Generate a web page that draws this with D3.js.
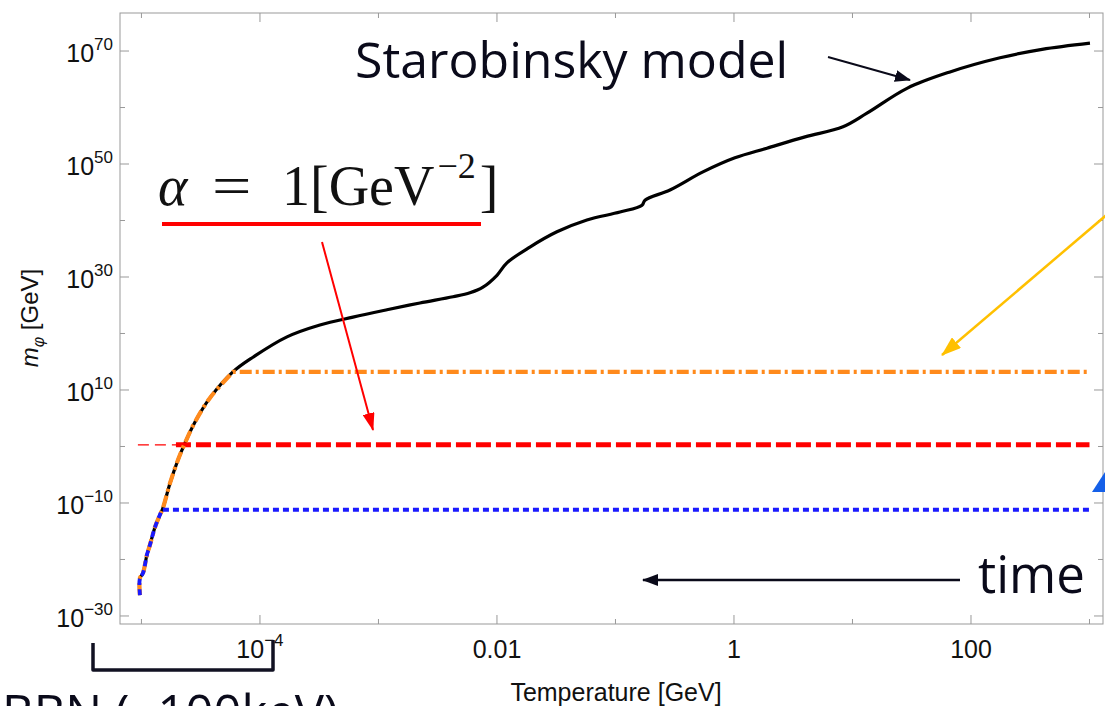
<!DOCTYPE html>
<html>
<head>
<meta charset="utf-8">
<script src="https://cdn.jsdelivr.net/npm/d3@7"></script>
<style>
  body { margin: 0; background: #fff; }
  svg { display: block; }
  .tick-label { font-family: "Liberation Sans", Arial, sans-serif; fill: #111; }
  .note { font-family: "Open Sans", "Noto Sans", sans-serif; fill: #0a0a1a; }
</style>
</head>
<body>
<svg id="chart" width="1105" height="706"></svg>
<script>
// Starobinsky curve, log10 T [GeV] vs log10 m_phi [GeV]
var curveLogT = [-5.013, -5.013, -4.987, -4.954, -4.928, -4.886, -4.844, -4.819, -4.759, -4.692,
  -4.633, -4.549, -4.422, -4.228, -4.059, -3.772, -3.494, -3.215, -2.928, -2.650,
  -2.371, -2.228, -2.118, -2.000, -1.916, -1.722, -1.494, -1.241, -0.962, -0.776,
  -0.751, -0.540, -0.262, 0.008, 0.278, 0.600, 0.920, 1.122, 1.460, 1.823, 2.245, 2.600, 3.004];
var curveLogM = [-26.3, -23.3, -22.4, -19.2, -17.4, -14.3, -12.1, -10.9, -6.5, -2.4,
  0.6, 4.3, 8.6, 13.2, 15.8, 19.4, 21.5, 22.9, 24.2, 25.4,
  26.5, 27.2, 28.2, 30.3, 32.5, 35.3, 38.0, 40.1, 41.5, 42.7,
  43.6, 45.4, 48.6, 51.1, 52.8, 54.8, 56.6, 59.0, 63.4, 66.3, 68.8, 70.3, 71.4];

// plateau levels of the three cut curves (log10 m_phi)
var plateauNames = ["alpha", "orange", "blue"];
var plateauLogM = [0.3, 13.2, -11.2];
var plateauEndLogT = 3.0;
var alphaThinStartLogT = -5.03;

// axes
var xMajorLogT = [-4, -2, 0, 2];
var xMajorLabels = [["10", "\u22124"], ["0.01"], ["1"], ["100"]];
var xMinorLogT = [-5, -3, -1, 1, 3];
var yMajorLogM = [-30, -10, 10, 30, 50, 70];
var yMajorLabels = ["\u221230", "\u221210", "10", "30", "50", "70"];
var yMinorLogM = [-20, 0, 20, 40, 60];

var svg = d3.select("#chart");
var pLeft = 120, pRight = 1103, pTop = 13, pBottom = 624;

var x = d3.scaleLog().domain([Math.pow(10, -5.181), Math.pow(10, 3.114)]).range([pLeft, pRight]);
var y = d3.scaleLog().domain([Math.pow(10, -31.42), Math.pow(10, 76.73)]).range([pBottom, pTop]);
function px(lt) { return x(Math.pow(10, lt)); }
function py(lm) { return y(Math.pow(10, lm)); }

// markers
var defs = svg.append("defs");
function marker(id, color, len, wid) {
  defs.append("marker")
    .attr("id", id).attr("markerUnits", "userSpaceOnUse")
    .attr("markerWidth", len).attr("markerHeight", wid)
    .attr("refX", len - 1).attr("refY", wid / 2)
    .attr("orient", "auto")
    .append("path")
    .attr("d", "M0,0L" + len + "," + (wid / 2) + "L0," + wid + "Z")
    .attr("fill", color);
}
marker("headBlack", "#0a0a1a", 16, 12);
marker("headRed", "#ff0000", 18, 12);
marker("headGold", "#ffc000", 20, 14);

// frame
var frame = svg.append("g").attr("stroke", "#999").attr("stroke-width", 1).attr("fill", "none");
frame.append("rect").attr("x", pLeft).attr("y", pTop).attr("width", pRight - pLeft).attr("height", pBottom - pTop);

function tickLines(vals, fn, len, side) {
  vals.forEach(function (v) {
    var p = fn(v);
    if (side === "bottom") frame.append("line").attr("x1", p).attr("x2", p).attr("y1", pBottom).attr("y2", pBottom - len);
    if (side === "top") frame.append("line").attr("x1", p).attr("x2", p).attr("y1", pTop).attr("y2", pTop + len);
    if (side === "left") frame.append("line").attr("y1", p).attr("y2", p).attr("x1", pLeft).attr("x2", pLeft + len);
    if (side === "right") frame.append("line").attr("y1", p).attr("y2", p).attr("x1", pRight).attr("x2", pRight - len);
  });
}
tickLines(xMajorLogT, px, 9, "bottom");
tickLines(xMinorLogT, px, 5, "bottom");
tickLines(xMajorLogT, px, 9, "top");
tickLines(xMinorLogT, px, 5, "top");
tickLines(yMajorLogM, py, 9, "left");
tickLines(yMinorLogM, py, 5, "left");
tickLines(yMajorLogM, py, 9, "right");
tickLines(yMinorLogM, py, 5, "right");

// tick labels
xMajorLogT.forEach(function (v, i) {
  var lab = xMajorLabels[i];
  var t = svg.append("text").attr("class", "tick-label")
    .attr("x", px(v)).attr("y", 658).attr("font-size", 25).attr("text-anchor", "middle");
  t.append("tspan").text(lab[0]);
  if (lab.length > 1) t.append("tspan").attr("dy", -12).attr("font-size", 17).text(lab[1]);
});
yMajorLogM.forEach(function (v, i) {
  var t = svg.append("text").attr("class", "tick-label")
    .attr("x", 113).attr("y", py(v) + 11).attr("font-size", 25).attr("text-anchor", "end");
  t.append("tspan").text("10");
  t.append("tspan").attr("dy", -12).attr("font-size", 17).text(yMajorLabels[i]);
});

// axis titles
svg.append("text").attr("class", "tick-label")
  .attr("x", 616).attr("y", 701).attr("font-size", 25).attr("text-anchor", "middle")
  .text("Temperature [GeV]");
var yt = svg.append("text").attr("class", "tick-label")
  .attr("transform", "translate(38,318) rotate(-90)").attr("font-size", 24).attr("text-anchor", "middle");
yt.append("tspan").attr("font-style", "italic").text("m");
yt.append("tspan").attr("font-style", "italic").attr("font-size", 16).attr("dy", 6).text("\u03c6");
yt.append("tspan").attr("dy", -6).text(" [GeV]");

// curves
var line = d3.line()
  .x(function (d) { return px(d[0]); })
  .y(function (d) { return py(d[1]); })
  .curve(d3.curveCatmullRom.alpha(0.5));
var flat = d3.line().x(function (d) { return px(d[0]); }).y(function (d) { return py(d[1]); });
var curve = curveLogT.map(function (t, i) { return [t, curveLogM[i]]; });

function cutCurve(level) {
  var pts = [];
  for (var i = 0; i < curve.length; i++) {
    if (curve[i][1] <= level) { pts.push(curve[i]); continue; }
    var a = curve[i - 1], b = curve[i];
    var f = (level - a[1]) / (b[1] - a[1]);
    pts.push([a[0] + f * (b[0] - a[0]), level]);
    break;
  }
  return pts;
}
function crossT(level) { var p = cutCurve(level); return p[p.length - 1][0]; }
function cutPath(level) {
  return line(cutCurve(level)) + flat([[crossT(level), level], [plateauEndLogT, level]]).replace("M", "L");
}

svg.append("path").datum(curve).attr("d", line)
  .attr("fill", "none").attr("stroke", "#000").attr("stroke-width", 3.2).attr("stroke-linejoin", "round");

var aLevel = plateauLogM[0];
svg.append("path").datum([[alphaThinStartLogT, aLevel], [crossT(aLevel), aLevel]]).attr("d", flat)
  .attr("fill", "none").attr("stroke", "#ff0000").attr("stroke-width", 1.2).attr("stroke-dasharray", "11,6");
svg.append("path").datum([[crossT(aLevel) - 0.07, aLevel], [plateauEndLogT, aLevel]]).attr("d", flat)
  .attr("fill", "none").attr("stroke", "#ff0000").attr("stroke-width", 5).attr("stroke-dasharray", "15,5");

svg.append("path").attr("d", cutPath(plateauLogM[1]))
  .attr("fill", "none").attr("stroke", "#ff8a1c").attr("stroke-width", 4.2).attr("stroke-dasharray", "12,4,3,4");

svg.append("path").attr("d", cutPath(plateauLogM[2]))
  .attr("fill", "none").attr("stroke", "#1a1aff").attr("stroke-width", 3.8).attr("stroke-dasharray", "6,4");

// annotations
svg.append("text").attr("class", "note").attr("x", 355).attr("y", 78).attr("font-size", 50)
  .text("Starobinsky model");
svg.append("line").attr("x1", 828).attr("y1", 57).attr("x2", 910).attr("y2", 80)
  .attr("stroke", "#0a0a1a").attr("stroke-width", 2).attr("marker-end", "url(#headBlack)");

var serif = "'Liberation Serif', 'DejaVu Serif', serif";
var ag = svg.append("g").attr("font-family", serif).attr("fill", "#111").attr("font-size", 56);
ag.append("text").attr("x", 158).attr("y", 205).attr("font-style", "italic").text("\u03b1");
ag.append("text").attr("x", 212).attr("y", 205).attr("transform", "translate(212,0) scale(1.25,1) translate(-212,0)").text("=");
var at = ag.append("text").attr("x", 282).attr("y", 205);
at.append("tspan").text("1[GeV");
at.append("tspan").attr("dy", -27).attr("dx", 3).attr("font-size", 36).text("\u22122");
at.append("tspan").attr("dy", 27).attr("dx", 4).text("]");
svg.append("line").attr("x1", 162).attr("x2", 481).attr("y1", 224).attr("y2", 224)
  .attr("stroke", "#ff0000").attr("stroke-width", 4);
svg.append("line").attr("x1", 322).attr("y1", 242).attr("x2", 373).attr("y2", 430)
  .attr("stroke", "#ff0000").attr("stroke-width", 2).attr("marker-end", "url(#headRed)");

svg.append("line").attr("x1", 1110).attr("y1", 212).attr("x2", 942).attr("y2", 355)
  .attr("stroke", "#ffc000").attr("stroke-width", 2.5).attr("marker-end", "url(#headGold)");
svg.append("path").attr("d", "M1092,492L1105,472L1105,492Z").attr("fill", "#1560e8");

svg.append("text").attr("class", "note").attr("x", 978).attr("y", 593).attr("font-size", 51).text("time");
svg.append("line").attr("x1", 960).attr("y1", 580).attr("x2", 643).attr("y2", 580)
  .attr("stroke", "#0a0a1a").attr("stroke-width", 2.5).attr("marker-end", "url(#headBlack)");

svg.append("path").attr("d", "M93,643V670H273V640")
  .attr("fill", "none").attr("stroke", "#111122").attr("stroke-width", 3.5).attr("stroke-linejoin", "round");
svg.append("text").attr("class", "note").attr("x", 2).attr("y", 730).attr("font-size", 49).text("BBN (~100keV)");
</script>
</body>
</html>
